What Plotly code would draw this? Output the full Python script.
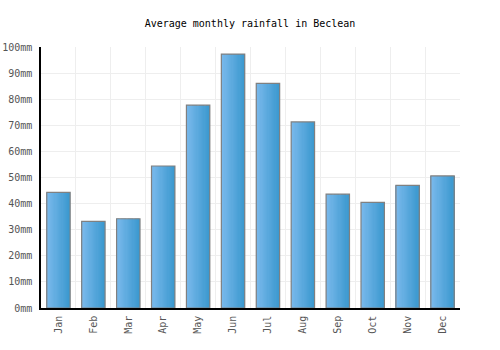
import plotly.graph_objects as go

months = ["Jan", "Feb", "Mar", "Apr", "May", "Jun", "Jul", "Aug", "Sep", "Oct", "Nov", "Dec"]
rainfall = [44.3, 33.2, 34.2, 54.4, 77.7, 97.3, 86.1, 71.3, 43.6, 40.5, 47.0, 50.6]
y_ticks = list(range(0, 101, 10))
y_labels = [f"{v}mm" for v in y_ticks]

BAR_W = 0.67
N = 20
c0 = (0x7a, 0xb9, 0xec)
c1 = (0x3c, 0x99, 0xcf)

fig = go.Figure()
for i in range(N):
    t = i / (N - 1)
    col = "rgb({},{},{})".format(*[round(a + (b - a) * t) for a, b in zip(c0, c1)])
    fig.add_trace(go.Bar(
        x=months, y=rainfall, width=BAR_W / N * 1.05, offset=-BAR_W / 2 + i * BAR_W / N,
        marker=dict(color=col, line=dict(width=0)), hoverinfo="skip",
    ))
fig.add_trace(go.Bar(
    x=months, y=rainfall, width=BAR_W, offset=-BAR_W / 2,
    marker=dict(color="rgba(0,0,0,0)", line=dict(color="#808080", width=1.2)),
))
tick_font = dict(family="DejaVu Sans Mono", size=10, color="#555555")
fig.update_layout(
    template="none",
    width=500, height=350,
    margin=dict(l=41, r=40, t=47, b=42),
    paper_bgcolor="white", plot_bgcolor="white",
    barmode="overlay",
    showlegend=False,
    title=dict(text="Average monthly rainfall in Beclean", x=0.5, xanchor="center",
               y=1 - 23 / 350, yanchor="middle",
               font=dict(family="DejaVu Sans Mono", size=10, color="#000")),
    font=tick_font,
)
fig.update_xaxes(tickangle=-90, tickson="boundaries", showgrid=True, gridcolor="#eeeeee",
                 gridwidth=1, showline=True, linecolor="#000", linewidth=1.5, ticks="",
                 ticklen=0, automargin=False, tickfont=tick_font, ticklabelstandoff=2)
fig.update_yaxes(range=[0, 100], tickvals=y_ticks, ticktext=y_labels, showgrid=True,
                 gridcolor="#eeeeee", gridwidth=1, showline=True, linecolor="#000",
                 linewidth=1.5, zeroline=False, ticks="", automargin=False,
                 tickfont=tick_font, ticklabelstandoff=5)
fig.write_html("out.html")
